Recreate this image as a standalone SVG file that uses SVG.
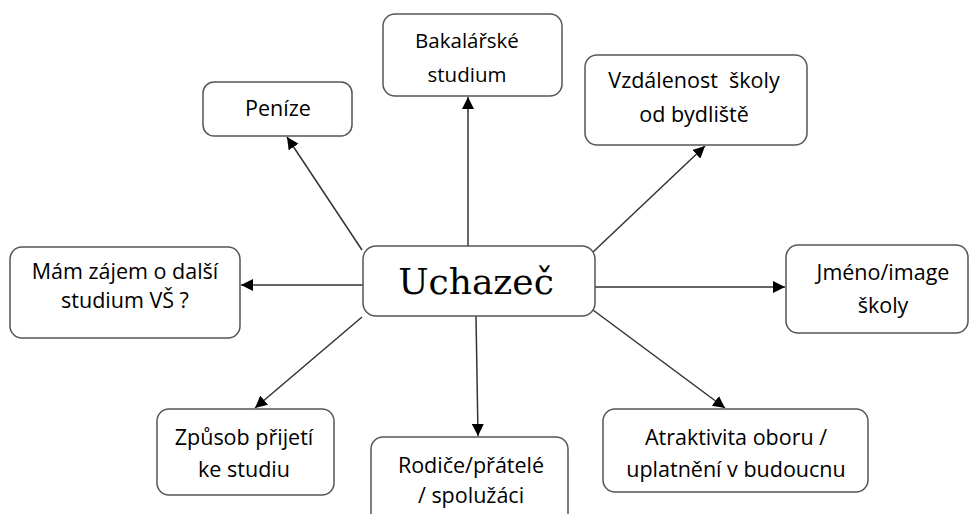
<svg xmlns="http://www.w3.org/2000/svg" width="971" height="514" viewBox="0 0 971 514">
<defs>
<style>
.box{fill:#fff;stroke:#555;stroke-width:1.5}
.t{font-family:"Open Sans","Noto Sans",sans-serif;font-size:21.5px;fill:#000;text-anchor:middle}
.s{font-size:20.5px}
.c{font-family:"DejaVu Serif","Liberation Serif",serif;font-size:36px;fill:#000;text-anchor:middle}
.ln{stroke:#333;stroke-width:1.5;fill:none;marker-end:url(#ah)}
</style>
<marker id="ah" viewBox="0 0 10 10" refX="10" refY="5" markerWidth="8" markerHeight="8" markerUnits="strokeWidth" orient="auto">
<path d="M0,0 L10,5 L0,10 z" fill="#000"/>
</marker>
</defs>
<rect width="971" height="514" fill="#fff"/>
<g id="connectors">
<line class="ln" x1="362" y1="250" x2="287" y2="137"/>
<line class="ln" x1="363" y1="285" x2="241" y2="285"/>
<line class="ln" x1="468" y1="246" x2="468" y2="97"/>
<line class="ln" x1="593" y1="252" x2="705" y2="146"/>
<line class="ln" x1="595" y1="287" x2="785" y2="287"/>
<line class="ln" x1="593" y1="310" x2="725" y2="408"/>
<line class="ln" x1="476" y1="316" x2="478" y2="436"/>
<line class="ln" x1="362" y1="317" x2="255" y2="408"/>
</g>
<g id="center">
<rect class="box" x="363" y="246" width="232" height="70" rx="13"/>
<text class="c" x="476" y="294">Uchazeč</text>
</g>
<g id="penize">
<rect class="box" x="203" y="82" width="149" height="54" rx="11"/>
<text class="t" x="278" y="116">Peníze</text>
</g>
<g id="bakalarske">
<rect class="box" x="383" y="14" width="179" height="82" rx="12"/>
<text class="t s" x="467" y="48">Bakalářské</text>
<text class="t s" x="467" y="82">studium</text>
</g>
<g id="vzdalenost">
<rect class="box" x="585" y="55" width="222" height="90" rx="12"/>
<text class="t" x="694" y="88" xml:space="preserve">Vzdálenost  školy</text>
<text class="t" x="694" y="122">od bydliště</text>
</g>
<g id="zajem">
<rect class="box" x="10" y="247" width="230" height="91" rx="12"/>
<text class="t" x="125" y="279">Mám zájem o další</text>
<text class="t" x="125" y="308">studium VŠ ?</text>
</g>
<g id="jmeno">
<rect class="box" x="786" y="245" width="182" height="88" rx="12"/>
<text class="t" x="883" y="280">Jméno/image</text>
<text class="t" x="883" y="313">školy</text>
</g>
<g id="zpusob">
<rect class="box" x="157" y="409" width="177" height="86" rx="12"/>
<text class="t" x="244" y="445">Způsob přijetí</text>
<text class="t" x="244" y="477">ke studiu</text>
</g>
<g id="rodice">
<rect class="box" x="371" y="437" width="197" height="90" rx="12"/>
<text class="t" x="471" y="473">Rodiče/přátelé</text>
<text class="t" x="471" y="503">/ spolužáci</text>
</g>
<g id="atraktivita">
<rect class="box" x="603" y="409" width="265" height="83" rx="12"/>
<text class="t" x="736" y="445">Atraktivita oboru /</text>
<text class="t" x="736" y="477">uplatnění v budoucnu</text>
</g>
</svg>
